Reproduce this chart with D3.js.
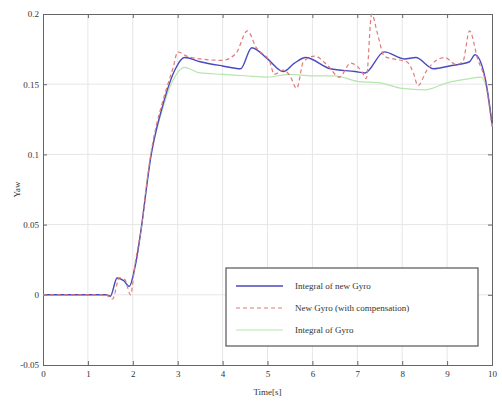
<!DOCTYPE html>
<html>
<head>
<meta charset="utf-8">
<script src="https://cdn.jsdelivr.net/npm/d3@7"></script>
<style>
  body { margin: 0; background: #fff; }
  text { font-family: "Liberation Serif", "DejaVu Serif", serif; fill: #333; }
</style>
</head>
<body>
<script>
// x positions are seconds, y values are yaw
var xTicks = [0, 1, 2, 3, 4, 5, 6, 7, 8, 9, 10];
var yTicks = [-0.05, 0, 0.05, 0.1, 0.15, 0.2];
var yTickLabels = ["-0.05", "0", "0.05", "0.1", "0.15", "0.2"];
var seriesNames = ["Integral of new Gyro", "New Gyro (with compensation)", "Integral of Gyro"];

var newIntT = [0, 1.4, 1.5, 1.65, 1.8, 1.92, 2.05, 2.2, 2.3, 2.4, 2.52, 2.65, 2.8, 2.95, 3.15, 3.5, 4.0, 4.4, 4.65, 5.0, 5.35, 5.6, 5.85, 6.4, 6.95, 7.17, 7.6, 8.05, 8.3, 8.7, 9.05, 9.5, 9.62, 9.85, 10];
var newIntV = [0, 0, -0.001, 0.012, 0.01, 0.006, 0.02, 0.05, 0.075, 0.098, 0.117, 0.133, 0.149, 0.161, 0.169, 0.166, 0.163, 0.161, 0.176, 0.168, 0.159, 0.165, 0.169, 0.161, 0.159, 0.158, 0.173, 0.168, 0.169, 0.161, 0.163, 0.166, 0.171, 0.154, 0.122];

var compT = [0, 1.4, 1.55, 1.7, 1.82, 1.95, 2.05, 2.2, 2.3, 2.4, 2.52, 2.65, 2.8, 2.9, 3.0, 3.2, 3.5, 4.0, 4.3, 4.55, 4.75, 5.05, 5.15, 5.35, 5.5, 5.65, 5.8, 6.05, 6.35, 6.6, 6.85, 7.1, 7.2, 7.32, 7.45, 7.6, 7.8, 8.1, 8.25, 8.35, 8.55, 8.95, 9.2, 9.35, 9.5, 9.68, 9.85, 10];
var compV = [0, 0, -0.003, 0.012, 0.011, 0, 0.022, 0.05, 0.077, 0.1, 0.12, 0.136, 0.152, 0.162, 0.173, 0.17, 0.168, 0.167, 0.172, 0.188, 0.176, 0.166, 0.157, 0.16, 0.156, 0.147, 0.166, 0.17, 0.163, 0.155, 0.165, 0.159, 0.154, 0.2, 0.186, 0.17, 0.168, 0.166, 0.158, 0.149, 0.16, 0.169, 0.164, 0.166, 0.188, 0.168, 0.152, 0.12];

var gyroIntT = [0, 1.4, 1.5, 1.65, 1.8, 1.92, 2.05, 2.2, 2.3, 2.4, 2.52, 2.65, 2.8, 2.95, 3.15, 3.5, 4, 4.5, 5, 5.5, 6, 6.5, 7, 7.5, 8, 8.5, 9, 9.5, 9.75, 9.9, 10];
var gyroIntV = [0, 0, -0.001, 0.012, 0.01, 0.006, 0.02, 0.05, 0.075, 0.098, 0.116, 0.131, 0.146, 0.156, 0.162, 0.158, 0.157, 0.156, 0.155, 0.157, 0.156, 0.156, 0.152, 0.151, 0.147, 0.146, 0.151, 0.154, 0.155, 0.145, 0.12];

var width = 502, height = 401;
var margin = {left: 43, right: 10, top: 14, bottom: 36};

var svg = d3.select("body").append("svg")
    .attr("width", width)
    .attr("height", height);

var x = d3.scaleLinear().domain([0, 10]).range([margin.left, width - margin.right]);
var y = d3.scaleLinear().domain([-0.05, 0.2]).range([height - margin.bottom, margin.top]);

// grid lines
svg.append("g").selectAll("line.gx")
    .data(xTicks.slice(1, -1)).enter().append("line")
    .attr("x1", function (d) { return x(d); })
    .attr("x2", function (d) { return x(d); })
    .attr("y1", y(-0.05)).attr("y2", y(0.2))
    .attr("stroke", "#e6e6e6").attr("stroke-width", 1);
svg.append("g").selectAll("line.gy")
    .data(yTicks.slice(1, -1)).enter().append("line")
    .attr("y1", function (d) { return y(d); })
    .attr("y2", function (d) { return y(d); })
    .attr("x1", x(0)).attr("x2", x(10))
    .attr("stroke", "#e6e6e6").attr("stroke-width", 1);

// axes, MATLAB style inward ticks on all four sides
var bottomAxis = d3.axisBottom(x).tickValues(xTicks).tickSize(-4).tickPadding(6);
var topAxis = d3.axisTop(x).tickValues(xTicks).tickSize(-4).tickFormat("");
var leftAxis = d3.axisLeft(y).tickValues(yTicks).tickSize(-4).tickPadding(4)
    .tickFormat(function (d, i) { return yTickLabels[i]; });
var rightAxis = d3.axisRight(y).tickValues(yTicks).tickSize(-4).tickFormat("");

function styleAxis(g) {
    g.select(".domain").attr("stroke", "#666");
    g.selectAll(".tick line").attr("stroke", "#666");
    g.selectAll(".tick text").attr("font-size", 9).attr("fill", "#333")
        .style("font-family", "'Liberation Serif', serif");
}

svg.append("g").attr("transform", "translate(0," + y(-0.05) + ")").call(bottomAxis).call(styleAxis);
svg.append("g").attr("transform", "translate(0," + y(0.2) + ")").call(topAxis).call(styleAxis);
svg.append("g").attr("transform", "translate(" + x(0) + ",0)").call(leftAxis).call(styleAxis);
svg.append("g").attr("transform", "translate(" + x(10) + ",0)").call(rightAxis).call(styleAxis);

// series
var line = d3.line()
    .x(function (d) { return x(d[0]); })
    .y(function (d) { return y(d[1]); })
    .curve(d3.curveMonotoneX);

function pairs(ts, vs) {
    return ts.map(function (t, i) { return [t, vs[i]]; });
}

var series = [
    {name: seriesNames[2], data: pairs(gyroIntT, gyroIntV), color: "#b5e6ad", dash: null, w: 1.2},
    {name: seriesNames[0], data: pairs(newIntT, newIntV), color: "#4a4ac0", dash: null, w: 1.4},
    {name: seriesNames[1], data: pairs(compT, compV), color: "#e07a7a", dash: "4,3", w: 1.2}
];

svg.append("g").selectAll("path")
    .data(series).enter().append("path")
    .attr("d", function (d) { return line(d.data); })
    .attr("fill", "none")
    .attr("stroke", function (d) { return d.color; })
    .attr("stroke-width", function (d) { return d.w; })
    .attr("stroke-dasharray", function (d) { return d.dash; });

// legend
var legend = svg.append("g");
legend.append("rect")
    .attr("x", 226).attr("y", 268)
    .attr("width", 252).attr("height", 78)
    .attr("fill", "#fff").attr("stroke", "#555").attr("stroke-width", 1.2);

var legendOrder = [series[1], series[2], series[0]];
legendOrder.forEach(function (s, i) {
    var ly = 286 + i * 22;
    legend.append("line")
        .attr("x1", 236).attr("x2", 283)
        .attr("y1", ly).attr("y2", ly)
        .attr("stroke", s.color).attr("stroke-width", s.w)
        .attr("stroke-dasharray", s.dash);
    legend.append("text")
        .attr("x", 295).attr("y", ly + 3)
        .attr("font-size", 9)
        .text(s.name);
});

// axis labels
svg.append("text")
    .attr("x", x(5)).attr("y", 395)
    .attr("text-anchor", "middle")
    .attr("font-size", 9)
    .text("Time[s]");
svg.append("text")
    .attr("transform", "translate(20," + y(0.075) + ") rotate(-90)")
    .attr("text-anchor", "middle")
    .attr("font-size", 9)
    .text("Yaw");
</script>
</body>
</html>
